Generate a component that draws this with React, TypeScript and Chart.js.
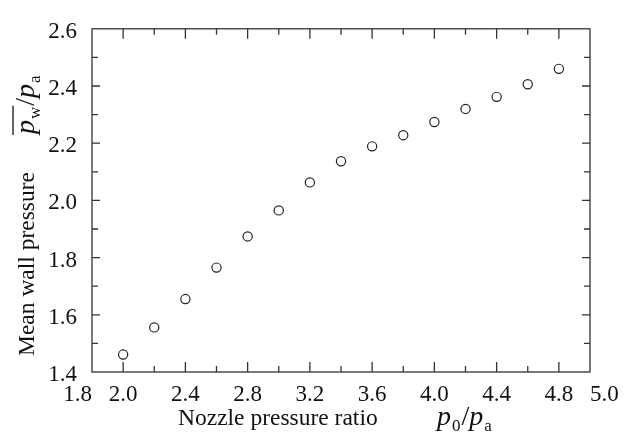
import React, { useEffect, useRef } from 'react';
import { Chart, registerables } from 'chart.js';

Chart.register(...registerables);

// ---- data ----
const nozzlePressureRatio = [2.0, 2.2, 2.4, 2.6, 2.8, 3.0, 3.2, 3.4, 3.6, 3.8, 4.0, 4.2, 4.4, 4.6, 4.8];
const meanWallPressure = [1.461, 1.556, 1.655, 1.765, 1.874, 1.965, 2.063, 2.137, 2.189, 2.228, 2.274, 2.320, 2.362, 2.406, 2.460];
const xLabeledTicks = [1.8, 2.0, 2.4, 2.8, 3.2, 3.6, 4.0, 4.4, 4.8, 5.0];
const xMin = 1.8;
const xMax = 5.0;
const yMin = 1.4;
const yMax = 2.6;
const xTitle = 'Nozzle pressure ratio';
const yTitle = 'Mean wall pressure';

const SERIF = '"Liberation Serif", "Times New Roman", serif';
const INK = '#111111';
const LINE = '#333333';

const framePlugin = {
  id: 'frameAndTitles',
  afterDraw(chart: any) {
    const { ctx, chartArea, scales } = chart;
    const { left, right, top, bottom } = chartArea;
    const xs = scales.x;
    const ys = scales.y;
    ctx.save();
    ctx.strokeStyle = LINE;
    ctx.lineWidth = 1.3;
    ctx.strokeRect(left, top, right - left, bottom - top);
    ctx.beginPath();
    const nx = Math.round((xMax - xMin) / 0.2);
    for (let i = 1; i < nx; i++) {
      const px = xs.getPixelForValue(xMin + i * 0.2);
      const len = i % 2 === 1 ? 10 : 6;
      ctx.moveTo(px, bottom);
      ctx.lineTo(px, bottom - len);
      ctx.moveTo(px, top);
      ctx.lineTo(px, top + len);
    }
    const ny = Math.round((yMax - yMin) / 0.1);
    for (let i = 1; i < ny; i++) {
      const py = ys.getPixelForValue(yMin + i * 0.1);
      const len = i % 2 === 0 ? 8 : 6;
      ctx.moveTo(left, py);
      ctx.lineTo(left + len, py);
      ctx.moveTo(right, py);
      ctx.lineTo(right - len, py);
    }
    ctx.stroke();

    ctx.fillStyle = INK;
    ctx.textBaseline = 'alphabetic';
    ctx.textAlign = 'left';

    const drawRatio = (x0: number, base: number, sub1: string, overline: boolean) => {
      let x = x0;
      ctx.font = `italic 28px ${SERIF}`;
      const pStart = x;
      ctx.fillText('p', x, base);
      x += ctx.measureText('p').width + 1;
      ctx.font = `17px ${SERIF}`;
      ctx.fillText(sub1, x, base + 6);
      x += ctx.measureText(sub1).width + 1;
      if (overline) {
        ctx.save();
        ctx.lineWidth = 1.3;
        ctx.strokeStyle = INK;
        ctx.beginPath();
        ctx.moveTo(pStart - 1, base - 21);
        ctx.lineTo(x, base - 21);
        ctx.stroke();
        ctx.restore();
      }
      ctx.font = `28px ${SERIF}`;
      ctx.fillText('/', x, base);
      x += ctx.measureText('/').width;
      ctx.font = `italic 28px ${SERIF}`;
      ctx.fillText('p', x, base);
      x += ctx.measureText('p').width + 1;
      ctx.font = `17px ${SERIF}`;
      ctx.fillText('a', x, base + 6);
    };

    // x title
    ctx.font = `23.5px ${SERIF}`;
    ctx.fillText(xTitle, 178, 425);
    drawRatio(437, 425, '0', false);

    // y title (rotated)
    ctx.save();
    ctx.translate(34, 356);
    ctx.rotate(-Math.PI / 2);
    ctx.font = `23.5px ${SERIF}`;
    ctx.fillText(yTitle, 0, 0);
    drawRatio(222, 0, 'w', true);
    ctx.restore();

    ctx.restore();
  },
};

export default function App() {
  const canvasRef = useRef<HTMLCanvasElement | null>(null);

  useEffect(() => {
    const canvas = canvasRef.current;
    if (!canvas) return;
    const chart = new Chart(canvas, {
      type: 'scatter',
      data: {
        datasets: [
          {
            data: nozzlePressureRatio.map((x, i) => ({ x, y: meanWallPressure[i] })),
            pointStyle: 'circle',
            pointRadius: 4.6,
            pointBorderWidth: 1.2,
            pointBorderColor: '#222222',
            pointBackgroundColor: '#ffffff',
            showLine: false,
          },
        ],
      },
      options: {
        animation: false,
        responsive: false,
        devicePixelRatio: 1,
        layout: { padding: { left: 0, right: 42, top: 18, bottom: 0 } },
        plugins: { legend: { display: false }, tooltip: { enabled: false } },
        scales: {
          x: {
            type: 'linear',
            min: xMin,
            max: xMax,
            grid: { display: false, drawTicks: false },
            border: { display: false },
            afterFit: (s: any) => {
              s.height = 60;
            },
            ticks: {
              stepSize: 0.2,
              autoSkip: false,
              maxRotation: 0,
              padding: 9,
              color: INK,
              font: { family: SERIF, size: 23 },
              callback: (v: any) => {
                const r = Math.round(Number(v) * 10) / 10;
                if (!xLabeledTicks.some((t) => Math.abs(t - r) < 1e-6)) return '';
                const s = r.toFixed(1);
                if (Math.abs(r - xMin) < 1e-6) return s + '     ';
                if (Math.abs(r - xMax) < 1e-6) return '     ' + s;
                return s;
              },
            },
          },
          y: {
            type: 'linear',
            min: yMin,
            max: yMax,
            grid: { display: false, drawTicks: false },
            border: { display: false },
            afterFit: (s: any) => {
              s.width = 92;
            },
            ticks: {
              stepSize: 0.2,
              padding: 15,
              labelOffset: 3,
              color: INK,
              font: { family: SERIF, size: 23 },
              callback: (v: any) => (Math.round(Number(v) * 10) / 10).toFixed(1),
            },
          },
        },
      },
      plugins: [framePlugin],
    });
    return () => chart.destroy();
  }, []);

  return (
    <div style={{ position: 'absolute', left: 0, top: 0, width: 632, height: 432, background: '#fff' }}>
      <canvas ref={canvasRef} width={632} height={432} style={{ display: 'block' }} />
    </div>
  );
}
